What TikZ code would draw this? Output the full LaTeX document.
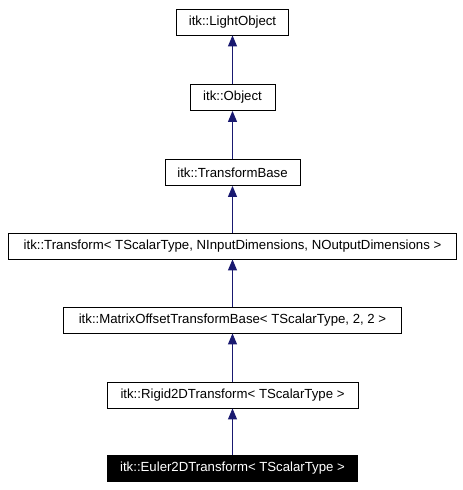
\documentclass[tikz,border=0pt]{standalone}
\usepackage{fontspec}
\setmainfont{Liberation Sans}
\usetikzlibrary{arrows.meta}
\definecolor{edgeblue}{RGB}{25,25,112}
\begin{document}
\begin{tikzpicture}[x=1pt,y=-1pt,
  box/.style={draw=black,line width=0.8pt,fill=white,minimum height=26pt,inner sep=0pt,font=\fontsize{13.2}{15}\selectfont},
  cur/.style={box,fill=black,text=white},
  arr/.style={draw=edgeblue,line width=0.9pt,-{Triangle[length=11pt,width=9pt]}}]
\useasboundingbox (0,0) rectangle (463,490);
\node[box,minimum width=112pt] (lo) at (232.5,22) {itk::LightObject};
\node[box,minimum width=85pt] (ob) at (232.5,97.5) {itk::Object};
\node[box,minimum width=135pt] (tb) at (232.5,172.5) {itk::TransformBase};
\node[box,minimum width=448pt] (tr) at (232.5,246) {itk::Transform< TScalarType, NInputDimensions, NOutputDimensions >};
\node[box,minimum width=338pt] (mo) at (232.5,320) {itk::MatrixOffsetTransformBase< TScalarType, 2, 2 >};
\node[box,minimum width=251pt] (rg) at (232.5,395) {itk::Rigid2DTransform< TScalarType >};
\node[cur,minimum width=250pt] (eu) at (232.5,468) {itk::Euler2DTransform< TScalarType >};
\draw[arr] (ob.north) -- (lo.south);
\draw[arr] (tb.north) -- (ob.south);
\draw[arr] (tr.north) -- (tb.south);
\draw[arr] (mo.north) -- (tr.south);
\draw[arr] (rg.north) -- (mo.south);
\draw[arr] (eu.north) -- (rg.south);
\end{tikzpicture}
\end{document}
